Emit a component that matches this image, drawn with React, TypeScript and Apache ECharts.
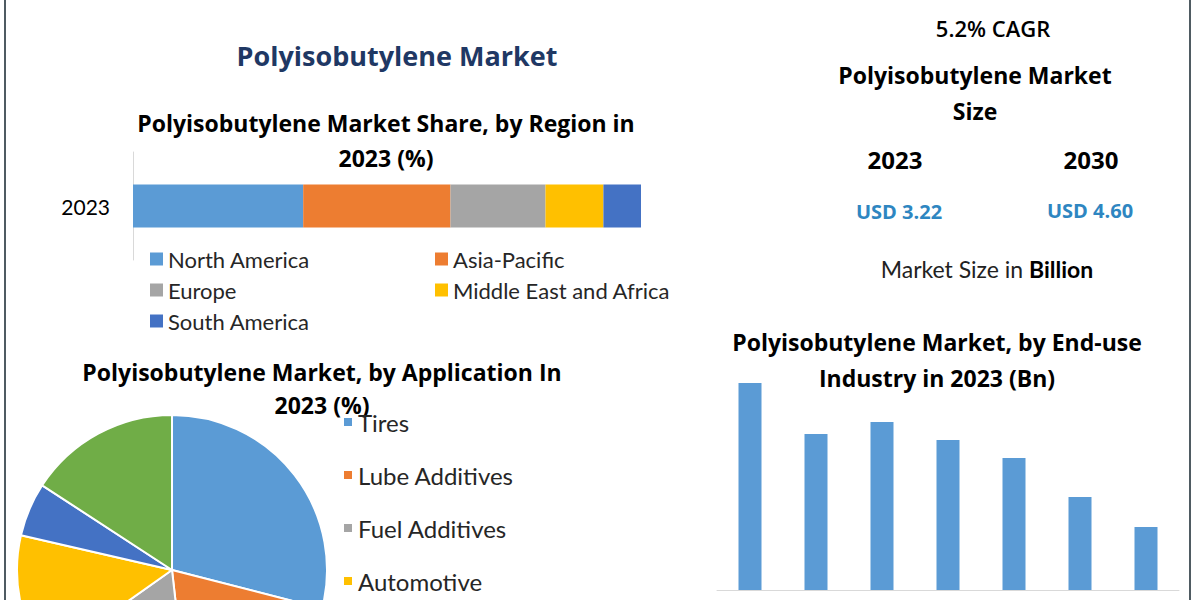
import React, { useEffect, useRef } from "react";
import * as echarts from "echarts";

// Region share (stacked bar), % in 2023
const regionYear = ["2023"];
const regionNames = ["North America", "Asia-Pacific", "Europe", "Middle East and Africa", "South America"];
const regionValues = [33.5, 29.0, 18.7, 11.4, 7.4];
const regionColors = ["#5B9BD5", "#ED7D31", "#A5A5A5", "#FFC000", "#4472C4"];

// Application share (pie), % in 2023
const appNames = ["Tires", "Lube Additives", "Fuel Additives", "Automotive", "Sealants", "Others"];
const appValues = [29.0, 19.2, 17.0, 13.4, 5.6, 15.8];
const appColors = ["#5B9BD5", "#ED7D31", "#A5A5A5", "#FFC000", "#4472C4", "#70AD47"];
const appLegendVisible = ["Tires", "Lube Additives", "Fuel Additives", "Automotive"];

// End-use industry (bar), USD Bn in 2023
const endUseNames = ["Automotive", "Construction", "Packaging", "Pharmaceutical", "Electronics", "Food", "Others"];
const endUseValues = [0.69, 0.52, 0.56, 0.5, 0.44, 0.31, 0.21];

// Market size figures
const cagrText = "5.2% CAGR";
const sizeYears = ["2023", "2030"];
const sizeValues = ["USD 3.22", "USD 4.60"];

const TITLE_FONT = "Open Sans, Lato, sans-serif";
const BODY_FONT = "Lato, Open Sans, sans-serif";

function txt(text: string, x: number, y: number, size: number, opts: any = {}) {
  return {
    type: "text",
    x,
    y,
    silent: true,
    style: {
      text,
      fill: opts.fill || "#000000",
      fontSize: size,
      fontWeight: opts.weight || "bold",
      fontFamily: opts.family || TITLE_FONT,
      textAlign: "center",
      textVerticalAlign: "middle",
      ...(opts.rich ? { rich: opts.rich } : {}),
    },
  };
}

export default function App() {
  const ref = useRef<HTMLDivElement>(null);

  useEffect(() => {
    if (!ref.current) return;
    const chart = echarts.init(ref.current, undefined, { renderer: "svg" });

    const regionSeries = regionNames.map((name, i) => ({
      type: "bar",
      name,
      stack: "region",
      xAxisIndex: 0,
      yAxisIndex: 0,
      barWidth: 43,
      itemStyle: { color: regionColors[i] },
      data: [regionValues[i]],
    }));

    const legendText = { fontSize: 22, color: "#262626", fontFamily: BODY_FONT };

    const option: any = {
      animation: false,
      backgroundColor: "#ffffff",
      grid: [
        { left: 133, right: 559, top: 152, height: 108, containLabel: false },
        { left: 717, width: 462, top: 350, height: 240, containLabel: false },
      ],
      xAxis: [
        { gridIndex: 0, type: "value", min: 0, max: 100, show: false },
        {
          gridIndex: 1,
          type: "category",
          data: endUseNames,
          axisLine: { show: true, lineStyle: { color: "#D9D9D9", width: 1 } },
          axisTick: { show: false },
          axisLabel: { show: false },
        },
      ],
      yAxis: [
        {
          gridIndex: 0,
          type: "category",
          data: regionYear,
          axisLine: { show: true, lineStyle: { color: "#D9D9D9", width: 1 } },
          axisTick: { show: false },
          axisLabel: { fontSize: 21, color: "#000000", margin: 23, fontFamily: BODY_FONT },
        },
        { gridIndex: 1, type: "value", min: 0, max: 0.8, show: false, splitLine: { show: false } },
      ],
      legend: [
        {
          data: ["North America", "Europe", "South America"],
          orient: "vertical",
          left: 145,
          top: 243,
          icon: "rect",
          itemWidth: 13,
          itemHeight: 13,
          itemGap: 9,
          textStyle: legendText,
          selectedMode: false,
        },
        {
          data: ["Asia-Pacific", "Middle East and Africa"],
          orient: "vertical",
          left: 430,
          top: 243,
          icon: "rect",
          itemWidth: 13,
          itemHeight: 13,
          itemGap: 9,
          textStyle: legendText,
          selectedMode: false,
        },
        {
          data: appLegendVisible,
          orient: "vertical",
          left: 337,
          top: 405,
          height: 195,
          icon: "rect",
          itemWidth: 10,
          itemHeight: 10,
          itemGap: 29,
          textStyle: { ...legendText, fontSize: 24 },
          selectedMode: false,
        },
      ],
      series: [
        ...regionSeries,
        {
          type: "pie",
          name: "Application",
          center: [172, 570],
          radius: 155,
          startAngle: 90,
          clockwise: true,
          label: { show: false },
          labelLine: { show: false },
          itemStyle: { borderColor: "#ffffff", borderWidth: 2 },
          data: appNames.map((n, i) => ({ name: n, value: appValues[i], itemStyle: { color: appColors[i] } })),
        },
        {
          type: "bar",
          name: "End-use",
          xAxisIndex: 1,
          yAxisIndex: 1,
          barWidth: 23,
          itemStyle: { color: "#5B9BD5" },
          data: endUseValues,
        },
      ],
      graphic: [
        { type: "line", shape: { x1: 5, y1: 0, x2: 5, y2: 600 }, style: { stroke: "#4F5B62", lineWidth: 2 } },
        { type: "line", shape: { x1: 1190, y1: 0, x2: 1190, y2: 600 }, style: { stroke: "#4F5B62", lineWidth: 2 } },
        txt("Polyisobutylene Market", 397, 55, 27, { fill: "#1F3864" }),
        txt("Polyisobutylene Market Share, by Region in", 386, 123, 23),
        txt("2023 (%)", 386, 158, 23),
        txt("Polyisobutylene Market, by Application In", 322, 372, 23),
        txt("2023 (%)", 322, 405, 23),
        txt(cagrText, 993, 28, 22, { weight: 600 }),
        txt("Polyisobutylene Market", 975, 75, 23),
        txt("Size", 975, 111, 23),
        txt(sizeYears[0], 895, 159, 24),
        txt(sizeYears[1], 1091, 159, 24),
        txt(sizeValues[0], 899, 211, 20, { fill: "#2E86C1" }),
        txt(sizeValues[1], 1090, 210, 20, { fill: "#2E86C1" }),
        txt("{a|Market Size in }{b|Billion}", 987, 269, 23, {
          weight: "normal",
          family: BODY_FONT,
          rich: {
            a: { fontSize: 23, fontWeight: "normal", fill: "#222222", fontFamily: BODY_FONT },
            b: { fontSize: 23, fontWeight: "bold", fill: "#000000", fontFamily: BODY_FONT },
          },
        }),
        txt("Polyisobutylene Market, by End-use", 937, 342, 23),
        txt("Industry in 2023 (Bn)", 937, 378, 23),
      ],
    };

    chart.setOption(option);
    return () => chart.dispose();
  }, []);

  return <div ref={ref} style={{ width: 1200, height: 600, position: "absolute", left: 0, top: 0 }} />;
}
